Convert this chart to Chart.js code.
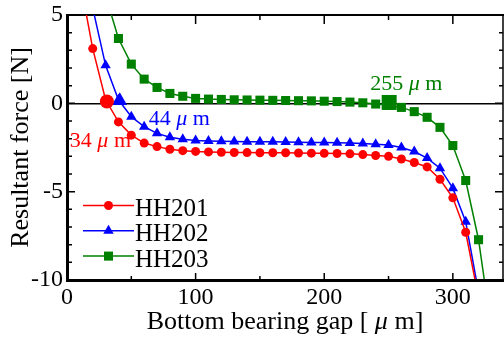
<!DOCTYPE html>
<html>
<head>
<meta charset="utf-8">
<script src="https://cdn.jsdelivr.net/npm/chart.js@4.4.1/dist/chart.umd.min.js"></script>
<style>
html, body { margin: 0; padding: 0; background: #fff; }
canvas { display: block; }
</style>
</head>
<body>
<canvas id="forceChart" width="504" height="342"></canvas>
<script>
// bottom bearing gap [um]
var gapUm = [10, 20, 30, 40, 50, 60, 70, 80, 90, 100, 110, 120, 130, 140, 150, 160,
  170, 180, 190, 200, 210, 220, 230, 240, 250, 260, 270, 280, 290, 300, 310, 320, 330];

// resultant force [N]
var hh201 = [7.0, 3.1, 0.2, -1.05, -1.8, -2.25, -2.45, -2.6, -2.68, -2.72, -2.75, -2.77, -2.78, -2.79, -2.8, -2.8,
  -2.8, -2.81, -2.82, -2.83, -2.84, -2.86, -2.9, -2.95, -3.0, -3.15, -3.35, -3.6, -4.3, -5.35, -7.3, -11.0, null];
var hh202 = [null, 5.4, 2.15, 0.2, -0.76, -1.32, -1.7, -1.92, -2.03, -2.1, -2.13, -2.15, -2.16, -2.17, -2.17, -2.18,
  -2.19, -2.2, -2.21, -2.22, -2.23, -2.25, -2.28, -2.31, -2.36, -2.5, -2.73, -3.1, -3.67, -4.8, -6.7, -10.7, null];
var hh203 = [null, null, 6.1, 3.67, 2.22, 1.37, 0.9, 0.56, 0.4, 0.28, 0.24, 0.22, 0.2, 0.19, 0.18, 0.17,
  0.16, 0.15, 0.14, 0.12, 0.1, 0.07, 0.03, -0.04, -0.1, -0.23, -0.47, -0.79, -1.36, -2.39, -4.37, -7.72, -12.8];

// zero-force crossing points
var crossGap = [31, 41, 250.5];
var crossForce = [0.1, 0.15, 0.05];
var crossLabels = ['34 μ m', '44 μ m', '255 μ m'];

var seriesNames = ['HH201', 'HH202', 'HH203'];
var xTicks = [0, 100, 200, 300];
var yTicks = [-10, -5, 0, 5];

var FONT = 'Liberation Serif';
var colors = ['#ff0000', '#0000ff', '#008000'];
var styles = ['circle', 'triangle', 'rect'];
var radii = [4.5, 6, 6.4];
var bigRadii = [7, 8.5, 10.6];

function points(values) {
  return gapUm.map(function (g, i) { return { x: g, y: values[i] }; });
}

function series(i, values) {
  return {
    label: seriesNames[i],
    data: points(values),
    borderColor: colors[i],
    backgroundColor: colors[i],
    borderWidth: 1.5,
    pointStyle: styles[i],
    pointRadius: radii[i],
    pointBorderWidth: 0,
    pointBackgroundColor: colors[i],
    clip: 0,
    order: 1
  };
}

function crossing(i) {
  return {
    label: crossLabels[i],
    data: [{ x: crossGap[i], y: crossForce[i] }],
    showLine: false,
    pointStyle: styles[i],
    pointRadius: bigRadii[i],
    pointBorderWidth: 0,
    pointBackgroundColor: colors[i],
    clip: 0,
    order: 0
  };
}

function mixedText(ctx, text, x, y, size, color, align) {
  var parts = text.split('μ');
  var pieces = [];
  parts.forEach(function (p, k) {
    if (k > 0) pieces.push({ t: 'μ', it: true });
    pieces.push({ t: p, it: false });
  });
  ctx.fillStyle = color;
  ctx.textBaseline = 'alphabetic';
  ctx.textAlign = 'left';
  var total = 0;
  pieces.forEach(function (p) {
    ctx.font = (p.it ? 'italic ' : '') + size + 'px "' + FONT + '"';
    p.w = ctx.measureText(p.t).width;
    total += p.w;
  });
  if (align === 'center') x -= total / 2;
  pieces.forEach(function (p) {
    ctx.font = (p.it ? 'italic ' : '') + size + 'px "' + FONT + '"';
    ctx.fillText(p.t, x, y);
    x += p.w;
  });
}

var frame = {
  id: 'frame',
  beforeDatasetsDraw: function (chart) {
    var ctx = chart.ctx, a = chart.chartArea, xs = chart.scales.x, ys = chart.scales.y;
    ctx.save();
    ctx.strokeStyle = '#000';
    ctx.lineWidth = 1.5;
    ctx.beginPath();
    for (var v = 50; v < xs.max; v += 50) {
      var px = xs.getPixelForValue(v), major = v % 100 === 0;
      ctx.moveTo(px, a.bottom); ctx.lineTo(px, a.bottom - (major ? 7 : 4));
      ctx.moveTo(px, a.top); ctx.lineTo(px, a.top + (major ? 9 : 5));
    }
    for (var w = ys.min + 1; w < ys.max; w++) {
      var py = ys.getPixelForValue(w), big = w % 5 === 0;
      ctx.moveTo(a.left, py); ctx.lineTo(a.left + (big ? 8 : 5), py);
      ctx.moveTo(a.right, py); ctx.lineTo(a.right - (big ? 8 : 4), py);
    }
    ctx.stroke();
    ctx.lineWidth = 2;
    ctx.beginPath(); ctx.moveTo(a.left, a.top); ctx.lineTo(a.right + 1, a.top); ctx.stroke();
    ctx.lineWidth = 1.5;
    ctx.beginPath(); ctx.moveTo(a.right, a.top); ctx.lineTo(a.right, a.bottom); ctx.stroke();
    ctx.restore();
  },
  afterDatasetsDraw: function (chart) {
    var ctx = chart.ctx, a = chart.chartArea, xs = chart.scales.x, ys = chart.scales.y;
    ctx.save();
    // crossing labels
    var offsets = [[-37, 45], [29, 24], [-19, -12]];
    for (var i = 0; i < 3; i++) {
      var px = xs.getPixelForValue(crossGap[i]), py = ys.getPixelForValue(crossForce[i]);
      mixedText(ctx, crossLabels[i], px + offsets[i][0], py + offsets[i][1], 22, colors[i], 'left');
    }
    // legend
    for (var j = 0; j < 3; j++) {
      var ry = 205.5 + j * 25.3;
      ctx.strokeStyle = colors[j];
      ctx.lineWidth = 1.5;
      ctx.beginPath(); ctx.moveTo(a.left + 16, ry); ctx.lineTo(a.left + 67, ry); ctx.stroke();
      ctx.fillStyle = colors[j];
      Chart.helpers.drawPoint(ctx, { pointStyle: styles[j], radius: radii[j], rotation: 0, borderWidth: 0 }, a.left + 41.5, ry);
      ctx.fillStyle = '#000';
      ctx.font = '25px "' + FONT + '"';
      ctx.textAlign = 'left';
      ctx.textBaseline = 'alphabetic';
      ctx.fillText(seriesNames[j], a.left + 68, ry + 10.5);
    }
    // x axis title
    mixedText(ctx, 'Bottom bearing gap [ μ m]', (a.left + a.right) / 2, 328.5, 26, '#000', 'center');
    ctx.restore();
  }
};

var tickFont = { family: FONT, size: 24 };

new Chart(document.getElementById('forceChart'), {
  type: 'line',
  data: {
    datasets: [series(0, hh201), series(1, hh202), series(2, hh203), crossing(0), crossing(1), crossing(2)]
  },
  options: {
    responsive: false,
    devicePixelRatio: 1,
    animation: false,
    layout: { autoPadding: false, padding: { top: 15, right: 1, left: 0, bottom: 0 } },
    plugins: { legend: { display: false }, tooltip: { enabled: false } },
    scales: {
      x: {
        type: 'linear',
        min: 0,
        max: 339,
        afterBuildTicks: function (s) { s.ticks = xTicks.map(function (v) { return { value: v }; }); },
        afterFit: function (s) { s.height = 62; s.paddingLeft = 0; s.paddingRight = 0; },
        grid: { display: false, drawTicks: false },
        border: { display: true, color: '#000', width: 3, z: 1 },
        ticks: { color: '#000', font: tickFont, padding: 3, maxRotation: 0, autoSkip: false }
      },
      y: {
        type: 'linear',
        min: -10,
        max: 5,
        afterBuildTicks: function (s) { s.ticks = yTicks.map(function (v) { return { value: v }; }); },
        afterFit: function (s) { s.width = 67; s.paddingTop = 0; s.paddingBottom = 0; },
        grid: {
          drawTicks: false,
          lineWidth: 1.5,
          color: function (c) { return c.tick && c.tick.value === 0 ? '#000' : 'rgba(0,0,0,0)'; }
        },
        border: { display: true, color: '#000', width: 3, z: 1 },
        ticks: { color: '#000', font: tickFont, padding: 4 },
        title: {
          display: true,
          text: 'Resultant force [N]',
          color: '#000',
          font: { family: FONT, size: 26 },
          padding: { top: 6, bottom: 0 }
        }
      }
    }
  },
  plugins: [frame]
});
</script>
</body>
</html>
